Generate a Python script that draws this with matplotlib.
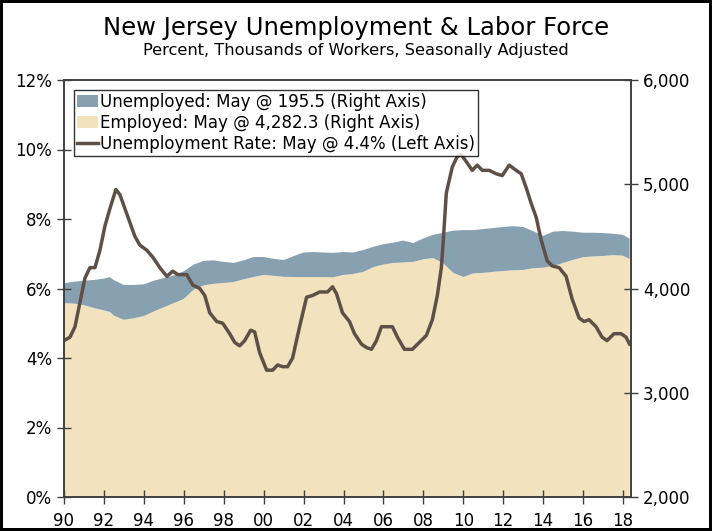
import numpy as np
import matplotlib.pyplot as plt
from matplotlib.patches import Patch
from matplotlib.lines import Line2D
from matplotlib.ticker import FuncFormatter

# Labor force data (thousands), read at half-year steps
area_years = [1990.0, 1990.5, 1991.0, 1991.5, 1992.0, 1992.3, 1992.5, 1993.0, 1993.5, 1994.0,
              1994.5, 1995.0, 1995.5, 1996.0, 1996.5, 1997.0, 1997.5, 1998.0, 1998.5, 1999.0,
              1999.5, 2000.0, 2000.5, 2001.0, 2001.5, 2002.0, 2002.5, 2003.0, 2003.5, 2004.0,
              2004.5, 2005.0, 2005.5, 2006.0, 2006.5, 2007.0, 2007.5, 2008.0, 2008.5, 2009.0,
              2009.5, 2010.0, 2010.5, 2011.0, 2011.5, 2012.0, 2012.5, 2013.0, 2013.5, 2014.0,
              2014.5, 2015.0, 2015.5, 2016.0, 2016.5, 2017.0, 2017.5, 2018.0, 2018.33]
employed = [3860, 3855, 3840, 3813, 3790, 3775, 3740, 3700, 3715, 3735,
            3780, 3820, 3860, 3900, 3990, 4030, 4045, 4053, 4062, 4088,
            4110, 4130, 4122, 4112, 4110, 4110, 4110, 4110, 4108, 4130,
            4140, 4160, 4205, 4230, 4245, 4250, 4256, 4280, 4292, 4240,
            4150, 4110, 4145, 4150, 4160, 4168, 4175, 4178, 4195, 4200,
            4215, 4245, 4275, 4300, 4308, 4312, 4320, 4315, 4282]
unemployed = [190, 210, 235, 269, 305, 335, 340, 334, 319, 305,
              295, 280, 265, 265, 240, 235, 225, 202, 183, 182,
              192, 172, 163, 161, 200, 235, 240, 235, 234, 220,
              205, 210, 195, 195, 195, 210, 180, 200, 223, 295,
              405, 450, 415, 420, 420, 422, 423, 412, 355, 305,
              330, 307, 270, 235, 227, 220, 205, 200, 196]

# Unemployment rate (%)
rate_years = [1990.0, 1990.3, 1990.55, 1990.8, 1991.05, 1991.3, 1991.55, 1991.8, 1992.05, 1992.3,
              1992.6, 1992.8, 1993.05, 1993.3, 1993.55, 1993.8, 1994.15, 1994.45, 1994.8, 1995.15,
              1995.45, 1995.7, 1996.15, 1996.45, 1996.8, 1997.05, 1997.3, 1997.65, 1997.95, 1998.3,
              1998.55, 1998.8, 1999.05, 1999.35, 1999.55, 1999.8, 2000.15, 2000.45, 2000.7, 2000.95,
              2001.2, 2001.45, 2001.8, 2002.15, 2002.45, 2002.8, 2003.2, 2003.45, 2003.65, 2003.95,
              2004.3, 2004.55, 2004.9, 2005.15, 2005.4, 2005.65, 2005.9, 2006.2, 2006.45, 2006.7,
              2007.05, 2007.45, 2007.8, 2008.15, 2008.45, 2008.7, 2008.9, 2009.0, 2009.15, 2009.45,
              2009.7, 2009.9, 2010.15, 2010.45, 2010.7, 2010.95, 2011.3, 2011.65, 2011.95, 2012.3,
              2012.65, 2012.9, 2013.15, 2013.4, 2013.65, 2013.9, 2014.2, 2014.45, 2014.8, 2015.15,
              2015.45, 2015.8, 2016.05, 2016.3, 2016.65, 2016.95, 2017.2, 2017.55, 2017.9, 2018.15,
              2018.33]
rate = [4.5, 4.6, 4.9, 5.6, 6.3, 6.6, 6.6, 7.1, 7.8, 8.3,
        8.85, 8.7, 8.3, 7.9, 7.5, 7.25, 7.1, 6.9, 6.6, 6.35,
        6.5, 6.4, 6.4, 6.1, 6.0, 5.8, 5.3, 5.05, 5.0, 4.7,
        4.45, 4.35, 4.5, 4.8, 4.75, 4.15, 3.65, 3.65, 3.8, 3.75,
        3.75, 4.0, 4.9, 5.75, 5.8, 5.9, 5.9, 6.05, 5.85, 5.3,
        5.05, 4.7, 4.4, 4.3, 4.25, 4.5, 4.9, 4.9, 4.9, 4.6,
        4.25, 4.25, 4.45, 4.65, 5.1, 5.8, 6.6, 7.4, 8.75, 9.5,
        9.8, 9.85, 9.65, 9.4, 9.55, 9.4, 9.4, 9.3, 9.25, 9.55,
        9.4, 9.3, 8.9, 8.45, 8.05, 7.4, 6.8, 6.65, 6.6, 6.35,
        5.7, 5.15, 5.05, 5.1, 4.9, 4.6, 4.5, 4.7, 4.7, 4.6,
        4.4]

xtick_years = list(range(1990, 2019, 2))
xtick_labels = ['%02d' % (y % 100) for y in xtick_years]

c_unemp = '#88a1b1'
c_emp = '#f2e2be'
c_line = '#5e5047'
c_axis = '#404040'

fig = plt.figure(figsize=(7.12, 5.31), dpi=100)
fig.patch.set_edgecolor('black')
fig.patch.set_linewidth(4)

ax = fig.add_axes([64/712, 1 - 497/531, (631 - 64)/712, (497 - 80)/531])
ax2 = ax.twinx()

# areas on right axis, line on left axis (drawn above)
ax2.stackplot(area_years, employed, unemployed, colors=[c_emp, c_unemp], baseline='zero')
ax2.set_ylim(2000, 6000)
ax2.set_yticks([2000, 3000, 4000, 5000, 6000])
ax2.yaxis.set_major_formatter(FuncFormatter(lambda v, p: '{:,.0f}'.format(v)))

ax.set_zorder(ax2.get_zorder() + 1)
ax.patch.set_visible(False)
ax.plot(rate_years, rate, color=c_line, lw=2.5, solid_joinstyle='round')
ax.set_ylim(0, 12)
ax.set_yticks(range(0, 13, 2))
ax.yaxis.set_major_formatter(FuncFormatter(lambda v, p: '%d%%' % v))
ax.set_xlim(1990, 2018.4)
ax.set_xticks(xtick_years)
ax.set_xticklabels(xtick_labels)

for a in (ax, ax2):
    a.tick_params(direction='inout', length=10, width=1, colors='black',
                  labelsize=12, color=c_axis)
    for s in a.spines.values():
        s.set_color(c_axis)
        s.set_linewidth(1.2)
ax.tick_params(axis='x', pad=6)

handles = [Patch(facecolor=c_unemp, edgecolor='none'),
           Patch(facecolor=c_emp, edgecolor='none'),
           Line2D([0], [0], color=c_line, lw=2.5)]
labels = ['Unemployed: May @ 195.5 (Right Axis)',
          'Employed: May @ 4,282.3 (Right Axis)',
          'Unemployment Rate: May @ 4.4% (Left Axis)']
leg = ax.legend(handles, labels, loc='upper left', bbox_to_anchor=(0.018, 0.976),
                fontsize=12, frameon=True, fancybox=False, borderpad=0.15,
                labelspacing=0.2, handlelength=1.25, handletextpad=0.15,
                borderaxespad=0)
leg.get_frame().set_edgecolor('black')
leg.get_frame().set_linewidth(1)

fig.text(0.5, 0.947, 'New Jersey Unemployment & Labor Force', ha='center', va='center',
         fontsize=17.5)
fig.text(0.5, 0.904, 'Percent, Thousands of Workers, Seasonally Adjusted', ha='center',
         va='center', fontsize=11.7)

fig.savefig('out.png', dpi=100)
